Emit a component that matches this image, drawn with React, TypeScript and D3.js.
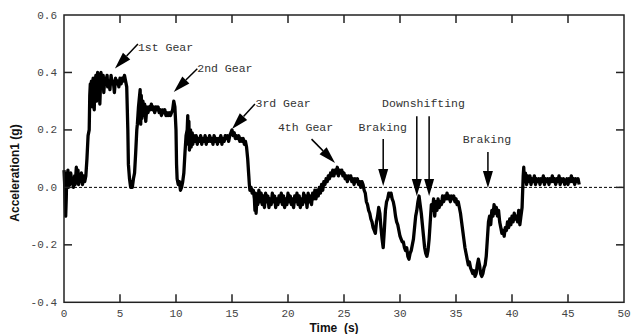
import React from "react";
import * as d3 from "d3";

// ---- data ----
const xTicks = [0, 5, 10, 15, 20, 25, 30, 35, 40, 45, 50];
const yTicks = [-0.4, -0.2, 0.0, 0.2, 0.4, 0.6];

// [time (s), acceleration (g)]
const samples: [number, number][] = [
  [0.0, 0.06], [0.05, 0.02], [0.1, -0.05], [0.15, -0.1], [0.2, -0.04], [0.25, 0.05], [0.3, 0.02], [0.35, 0.06],
  [0.4, 0.0], [0.5, 0.04], [0.55, 0.01], [0.6, 0.05], [0.7, 0.02], [0.8, 0.03], [0.85, 0.0], [0.95, 0.04],
  [1.0, 0.01], [1.1, 0.07], [1.15, 0.02], [1.25, 0.06], [1.3, 0.01], [1.4, 0.04], [1.5, 0.02], [1.55, 0.05],
  [1.65, 0.01], [1.75, 0.04], [1.85, 0.02], [1.95, 0.04],
  [2.05, 0.1], [2.15, 0.18], [2.25, 0.2], [2.3, 0.32], [2.35, 0.36], [2.4, 0.3], [2.45, 0.37], [2.55, 0.28],
  [2.6, 0.38], [2.7, 0.27], [2.75, 0.36], [2.85, 0.39], [2.9, 0.3], [3.0, 0.4], [3.05, 0.33], [3.15, 0.38],
  [3.2, 0.29], [3.3, 0.4], [3.4, 0.35], [3.5, 0.39], [3.55, 0.33], [3.65, 0.38], [3.75, 0.36], [3.85, 0.39],
  [3.9, 0.35], [4.0, 0.37], [4.1, 0.34], [4.2, 0.39], [4.3, 0.36], [4.4, 0.37], [4.5, 0.33], [4.6, 0.38],
  [4.7, 0.36], [4.8, 0.37], [4.9, 0.35], [5.0, 0.38], [5.1, 0.36], [5.2, 0.38], [5.3, 0.37], [5.4, 0.39],
  [5.5, 0.37], [5.6, 0.35],
  [5.7, 0.2], [5.75, 0.08], [5.85, 0.03], [5.95, 0.0], [6.05, 0.02], [6.1, -0.0], [6.2, 0.03], [6.3, 0.05],
  [6.4, 0.12], [6.5, 0.2], [6.55, 0.22], [6.65, 0.28], [6.7, 0.3], [6.8, 0.34], [6.85, 0.22], [6.9, 0.32],
  [6.95, 0.24], [7.05, 0.3], [7.1, 0.25], [7.2, 0.29], [7.3, 0.23], [7.4, 0.28], [7.5, 0.26], [7.6, 0.28],
  [7.7, 0.27], [7.8, 0.29], [7.9, 0.27], [8.0, 0.28], [8.1, 0.26], [8.2, 0.28], [8.3, 0.27], [8.4, 0.28],
  [8.5, 0.26], [8.6, 0.27], [8.7, 0.25], [8.8, 0.27], [8.9, 0.26], [9.0, 0.27], [9.1, 0.25], [9.2, 0.26],
  [9.3, 0.25], [9.4, 0.26], [9.5, 0.25], [9.6, 0.26], [9.7, 0.27], [9.8, 0.3], [9.9, 0.28],
  [10.0, 0.2], [10.05, 0.08], [10.1, 0.03], [10.2, 0.01], [10.3, 0.02], [10.4, -0.01], [10.5, 0.0], [10.6, 0.02],
  [10.7, 0.05], [10.8, 0.12], [10.9, 0.18], [11.0, 0.2], [11.05, 0.25], [11.1, 0.15], [11.15, 0.23], [11.2, 0.13],
  [11.3, 0.2], [11.35, 0.14], [11.45, 0.19], [11.5, 0.15], [11.6, 0.18], [11.7, 0.16], [11.8, 0.18], [11.9, 0.15],
  [12.0, 0.17], [12.1, 0.16], [12.2, 0.18], [12.3, 0.15], [12.4, 0.17], [12.5, 0.16], [12.6, 0.18], [12.7, 0.15],
  [12.8, 0.17], [12.9, 0.16], [13.0, 0.18], [13.1, 0.16], [13.2, 0.17], [13.3, 0.15], [13.4, 0.18], [13.5, 0.16],
  [13.6, 0.17], [13.7, 0.15], [13.8, 0.17], [13.9, 0.16], [14.0, 0.18], [14.1, 0.15], [14.2, 0.17], [14.3, 0.16],
  [14.4, 0.18], [14.5, 0.17], [14.6, 0.18], [14.7, 0.16], [14.8, 0.18], [14.9, 0.19], [15.0, 0.2], [15.1, 0.18],
  [15.2, 0.19], [15.3, 0.17], [15.4, 0.18], [15.5, 0.17], [15.6, 0.18], [15.7, 0.16], [15.8, 0.17], [15.9, 0.16],
  [16.0, 0.17], [16.1, 0.15], [16.2, 0.16], [16.3, 0.14], [16.4, 0.1], [16.5, 0.04], [16.55, 0.01], [16.6, -0.01],
  [16.7, 0.0], [16.8, -0.02], [16.9, -0.01], [17.0, -0.04], [17.05, -0.08], [17.1, -0.02], [17.15, -0.09], [17.25, -0.03],
  [17.3, -0.06], [17.4, -0.01], [17.5, -0.05], [17.6, -0.02], [17.7, -0.06], [17.8, -0.03], [17.9, -0.07], [18.0, -0.02],
  [18.1, -0.05], [18.2, -0.03], [18.3, -0.07], [18.4, -0.04], [18.5, -0.06], [18.6, -0.02], [18.7, -0.05], [18.8, -0.03],
  [18.9, -0.07], [19.0, -0.04], [19.1, -0.06], [19.2, -0.03], [19.3, -0.05], [19.4, -0.02], [19.5, -0.06], [19.6, -0.03],
  [19.7, -0.07], [19.8, -0.04], [19.9, -0.06], [20.0, -0.02], [20.1, -0.05], [20.2, -0.03], [20.3, -0.06], [20.4, -0.04],
  [20.5, -0.07], [20.6, -0.03], [20.7, -0.05], [20.8, -0.02], [20.9, -0.06], [21.0, -0.03], [21.1, -0.07], [21.2, -0.04],
  [21.3, -0.06], [21.4, -0.02], [21.5, -0.05], [21.6, -0.03], [21.7, -0.07], [21.8, -0.02], [21.9, -0.05], [22.0, -0.03],
  [22.1, -0.06], [22.2, -0.02], [22.3, -0.04], [22.4, -0.01], [22.5, -0.04], [22.6, -0.01], [22.7, -0.03], [22.8, 0.0],
  [22.9, -0.02], [23.0, 0.01], [23.1, -0.01], [23.2, 0.02], [23.3, 0.01], [23.4, 0.03], [23.5, 0.02], [23.6, 0.04],
  [23.7, 0.03], [23.8, 0.05], [23.9, 0.04], [24.0, 0.06], [24.1, 0.04], [24.2, 0.06], [24.3, 0.05], [24.4, 0.07],
  [24.5, 0.04], [24.6, 0.06], [24.7, 0.05], [24.8, 0.06], [24.9, 0.04], [25.0, 0.05], [25.1, 0.03], [25.2, 0.04],
  [25.3, 0.02], [25.4, 0.04], [25.5, 0.03], [25.6, 0.04], [25.7, 0.02], [25.8, 0.03], [25.9, 0.01], [26.0, 0.03],
  [26.1, 0.02], [26.2, 0.03], [26.3, 0.01], [26.4, 0.02], [26.5, 0.0], [26.6, 0.02], [26.7, 0.01], [26.8, -0.01],
  [26.9, -0.02], [27.0, -0.05], [27.1, -0.06], [27.2, -0.08], [27.3, -0.09], [27.4, -0.11], [27.5, -0.12], [27.6, -0.14],
  [27.7, -0.15], [27.8, -0.16], [27.9, -0.12], [28.0, -0.1], [28.1, -0.07], [28.2, -0.09], [28.3, -0.14], [28.4, -0.18],
  [28.5, -0.21], [28.6, -0.15], [28.7, -0.08], [28.8, -0.05], [28.9, -0.04], [29.0, -0.02], [29.1, -0.03], [29.2, -0.02],
  [29.3, -0.04], [29.4, -0.05], [29.5, -0.07], [29.6, -0.1], [29.7, -0.12], [29.8, -0.13], [29.9, -0.15], [30.0, -0.17],
  [30.1, -0.18], [30.2, -0.19], [30.3, -0.19], [30.4, -0.21], [30.5, -0.22], [30.6, -0.21], [30.7, -0.24], [30.8, -0.25],
  [30.9, -0.23], [31.0, -0.22], [31.1, -0.2], [31.2, -0.18], [31.3, -0.14], [31.4, -0.1], [31.5, -0.08], [31.6, -0.05],
  [31.7, -0.03], [31.8, -0.06], [31.9, -0.09], [32.0, -0.13], [32.1, -0.17], [32.2, -0.21], [32.3, -0.23], [32.4, -0.24],
  [32.5, -0.22], [32.6, -0.18], [32.7, -0.12], [32.8, -0.06], [32.9, -0.08], [33.0, -0.04], [33.1, -0.1], [33.2, -0.05],
  [33.3, -0.08], [33.4, -0.04], [33.5, -0.07], [33.6, -0.05], [33.7, -0.06], [33.8, -0.03], [33.9, -0.05], [34.0, -0.03],
  [34.1, -0.04], [34.2, -0.02], [34.3, -0.04], [34.4, -0.03], [34.5, -0.05], [34.6, -0.03], [34.7, -0.04], [34.8, -0.03],
  [34.9, -0.05], [35.0, -0.04], [35.1, -0.06], [35.2, -0.05], [35.3, -0.07], [35.4, -0.09], [35.5, -0.12], [35.6, -0.15],
  [35.7, -0.18], [35.8, -0.21], [35.9, -0.23], [36.0, -0.25], [36.1, -0.27], [36.2, -0.26], [36.3, -0.28], [36.4, -0.29],
  [36.5, -0.3], [36.6, -0.29], [36.7, -0.31], [36.8, -0.3], [36.9, -0.27], [37.0, -0.25], [37.1, -0.27], [37.2, -0.3],
  [37.3, -0.31], [37.4, -0.3], [37.5, -0.28], [37.6, -0.27], [37.7, -0.24], [37.8, -0.18], [37.9, -0.12], [38.0, -0.1],
  [38.1, -0.13], [38.2, -0.08], [38.3, -0.1], [38.4, -0.06], [38.5, -0.09], [38.6, -0.07], [38.7, -0.1], [38.8, -0.08],
  [38.9, -0.12], [39.0, -0.14], [39.1, -0.16], [39.2, -0.15], [39.3, -0.17], [39.4, -0.14], [39.5, -0.15], [39.6, -0.12],
  [39.7, -0.14], [39.8, -0.11], [39.9, -0.13], [40.0, -0.1], [40.1, -0.12], [40.2, -0.09], [40.3, -0.11], [40.4, -0.1],
  [40.5, -0.12], [40.6, -0.08], [40.7, -0.13], [40.8, -0.1], [40.9, -0.07], [41.0, 0.04], [41.05, 0.07], [41.1, 0.02],
  [41.2, 0.05], [41.3, 0.01], [41.4, 0.04], [41.5, 0.02], [41.6, 0.04], [41.7, 0.01], [41.8, 0.03], [41.9, 0.02],
  [42.0, 0.04], [42.1, 0.01], [42.2, 0.03], [42.3, 0.02], [42.4, 0.03], [42.5, 0.01], [42.6, 0.03], [42.7, 0.02],
  [42.8, 0.04], [42.9, 0.01], [43.0, 0.03], [43.1, 0.02], [43.2, 0.03], [43.3, 0.01], [43.4, 0.03], [43.5, 0.02],
  [43.6, 0.04], [43.7, 0.02], [43.8, 0.03], [43.9, 0.01], [44.0, 0.03], [44.1, 0.02], [44.2, 0.04], [44.3, 0.01],
  [44.4, 0.03], [44.5, 0.02], [44.6, 0.03], [44.7, 0.01], [44.8, 0.02], [44.9, 0.03], [45.0, 0.01], [45.1, 0.03],
  [45.2, 0.02], [45.3, 0.04], [45.4, 0.02], [45.5, 0.03], [45.6, 0.01], [45.7, 0.03], [45.8, 0.02], [45.9, 0.03],
  [46.0, 0.01],
];

// annotation labels: text, label anchor (t, g)
const labels: { text: string; t: number; g: number }[] = [
  { text: "1st Gear", t: 6.6, g: 0.489 },
  { text: "2nd Gear", t: 11.9, g: 0.417 },
  { text: "3rd Gear", t: 17.1, g: 0.295 },
  { text: "4th Gear", t: 19.1, g: 0.211 },
  { text: "Braking", t: 26.3, g: 0.21 },
  { text: "Downshifting", t: 28.4, g: 0.294 },
  { text: "Braking", t: 35.6, g: 0.17 },
];

// arrows: tail (t0, g0) -> tip (t1, g1)
const arrows: { t0: number; g0: number; t1: number; g1: number }[] = [
  { t0: 6.6, g0: 0.499, t1: 4.55, g1: 0.414 },
  { t0: 11.9, g0: 0.413, t1: 9.8, g1: 0.332 },
  { t0: 17.05, g0: 0.29, t1: 15.0, g1: 0.203 },
  { t0: 22.1, g0: 0.168, t1: 24.2, g1: 0.085 },
  { t0: 28.5, g0: 0.168, t1: 28.5, g1: 0.005 },
  { t0: 31.5, g0: 0.248, t1: 31.5, g1: -0.03 },
  { t0: 32.6, g0: 0.248, t1: 32.6, g1: -0.03 },
  { t0: 37.85, g0: 0.123, t1: 37.85, g1: -0.002 },
];

const W = 632;
const H = 334;
const left = 64;
const right = 624;
const top = 15;
const bottom = 302.3;

const mono = "'Liberation Mono', 'DejaVu Sans Mono', monospace";
const sans = "'Liberation Sans', Arial, sans-serif";

export default function App() {
  const x = d3.scaleLinear().domain([0, 50]).range([left, right]);
  const y = d3.scaleLinear().domain([-0.4, 0.6]).range([bottom, top]);
  const line = d3
    .line<[number, number]>()
    .x((d) => x(d[0]))
    .y((d) => y(d[1]));

  const tickLen = 8;
  const axisColor = "#222";
  const labelColor = "#444";

  const headLen = 17;
  const headHalf = 5;

  return (
    <svg
      width={W}
      height={H}
      style={{ position: "absolute", left: 0, top: 0, background: "#fff" }}
    >
      <rect x={0} y={0} width={W} height={H} fill="#fff" />
      {/* zero line */}
      <line
        x1={x(0)}
        x2={x(50)}
        y1={y(0)}
        y2={y(0)}
        stroke="#000"
        strokeWidth={1}
        strokeDasharray="3,2"
      />
      {/* data */}
      <path
        d={line(samples) || ""}
        fill="none"
        stroke="#000"
        strokeWidth={3.3}
        strokeLinejoin="round"
      />
      {/* frame */}
      <rect
        x={left}
        y={top}
        width={right - left}
        height={bottom - top}
        fill="none"
        stroke={axisColor}
        strokeWidth={1.5}
      />
      {/* x ticks */}
      {xTicks.map((t) => (
        <g key={"xt" + t}>
          {t > 0 && t < 50 && (
            <>
              <line x1={x(t)} x2={x(t)} y1={bottom} y2={bottom - tickLen} stroke={axisColor} strokeWidth={1.5} />
              <line x1={x(t)} x2={x(t)} y1={top} y2={top + tickLen} stroke={axisColor} strokeWidth={1.5} />
            </>
          )}
          <text
            x={x(t)}
            y={317}
            textAnchor="middle"
            fontFamily={mono}
            fontSize={11}
            fill={labelColor}
          >
            {String(t)}
          </text>
        </g>
      ))}
      {/* y ticks */}
      {yTicks.map((v) => (
        <g key={"yt" + v}>
          {v > -0.4 && v < 0.6 && (
            <>
              <line x1={left} x2={left + tickLen} y1={y(v)} y2={y(v)} stroke={axisColor} strokeWidth={1.5} />
              <line x1={right} x2={right - tickLen} y1={y(v)} y2={y(v)} stroke={axisColor} strokeWidth={1.5} />
            </>
          )}
          <text
            x={57}
            y={y(v) + 3.5}
            textAnchor="end"
            fontFamily={mono}
            fontSize={11}
            fill={labelColor}
          >
            {d3.format(".1f")(v).replace("−", "-")}
          </text>
        </g>
      ))}
      {/* axis titles */}
      <text
        x={(left + right) / 2 - 10}
        y={331.5}
        textAnchor="middle"
        fontFamily={sans}
        fontWeight="bold"
        fontSize={12}
        fill="#111"
        style={{ whiteSpace: "pre" }}
      >
        {"Time  (s)"}
      </text>
      <text
        transform={`translate(19, 173) rotate(-90)`}
        textAnchor="middle"
        fontFamily={sans}
        fontWeight="bold"
        fontSize={12}
        fill="#111"
      >
        Acceleration1 (g)
      </text>
      {/* annotations */}
      {labels.map((l, i) => (
        <text
          key={"lb" + i}
          x={x(l.t)}
          y={y(l.g) + 4}
          fontFamily={mono}
          fontSize={11.5}
          fill="#333"
        >
          {l.text}
        </text>
      ))}
      {arrows.map((a, i) => {
        const x0 = x(a.t0);
        const y0 = y(a.g0);
        const x1 = x(a.t1);
        const y1 = y(a.g1);
        const dx = x1 - x0;
        const dy = y1 - y0;
        const len = Math.hypot(dx, dy);
        const ux = dx / len;
        const uy = dy / len;
        const bx = x1 - ux * headLen;
        const by = y1 - uy * headLen;
        const px = -uy * headHalf;
        const py = ux * headHalf;
        return (
          <g key={"ar" + i}>
            <line x1={x0} y1={y0} x2={bx} y2={by} stroke="#000" strokeWidth={1.5} />
            <path
              d={`M${x1},${y1}L${bx + px},${by + py}L${bx - px},${by - py}Z`}
              fill="#000"
            />
          </g>
        );
      })}
    </svg>
  );
}
